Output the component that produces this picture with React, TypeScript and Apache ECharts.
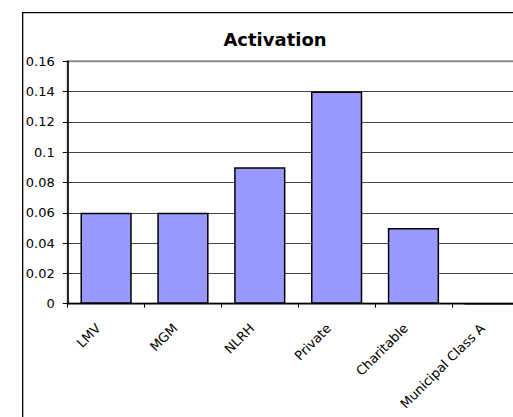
import React, { useEffect, useRef } from "react";
import * as echarts from "echarts";

// Activation rate per hospital group
const categories = ["LMV", "MGM", "NLRH", "Private", "Charitable", "Municipal Class A"];
const activation = [0.06, 0.06, 0.09, 0.14, 0.05, 0];

const FONT = "DejaVu Sans";

export default function App() {
  const ref = useRef<HTMLDivElement>(null);

  useEffect(() => {
    document.body.style.margin = "0";
    if (!ref.current) return;
    const chart = echarts.init(ref.current, null, { renderer: "svg" });
    chart.setOption({
      animation: false,
      backgroundColor: "#ffffff",
      graphic: [
        {
          // chart-area frame, left edge
          type: "rect",
          shape: { x: 22, y: 12, width: 1.3, height: 430 },
          style: { fill: "#000" },
          z: 0,
        },
        {
          // chart-area frame, top edge
          type: "rect",
          shape: { x: 22, y: 12, width: 540, height: 1.3 },
          style: { fill: "#000" },
          z: 0,
        },
        {
          type: "text",
          x: 275,
          y: 39,
          style: {
            text: "Activation",
            font: `bold 18px "${FONT}"`,
            fill: "#000",
            align: "center",
            verticalAlign: "middle",
          },
        },
      ],
      grid: {
        left: 67.7,
        top: 61.3,
        width: 461,
        height: 242.4,
        show: true,
        backgroundColor: "#fff",
        borderColor: "#8a8a8a",
        borderWidth: 2,
      },
      xAxis: {
        type: "category",
        data: categories,
        axisLine: { show: true, lineStyle: { color: "#000", width: 1.3 } },
        axisTick: { show: true, length: 4, lineStyle: { color: "#000" } },
        axisLabel: {
          rotate: 45,
          interval: 0,
          margin: 14.5,
          padding: [0, 11, 0, 0],
          fontFamily: FONT,
          fontSize: 13,
          color: "#000",
        },
        splitLine: { show: false },
      },
      yAxis: {
        type: "value",
        min: 0,
        max: 0.16,
        interval: 0.02,
        axisLine: { show: true, lineStyle: { color: "#000", width: 1.5 } },
        axisTick: { show: true, length: 5, lineStyle: { color: "#000" } },
        axisLabel: {
          margin: 13,
          fontFamily: FONT,
          fontSize: 13,
          color: "#000",
          formatter: (v: number) => String(+v.toFixed(2)),
        },
        splitLine: {
          show: true,
          lineStyle: {
            color: [
              "#444", "#444", "#444", "#444", "#444",
              "#444", "#444", "#444", "rgba(0,0,0,0)",
            ],
            width: 1,
          },
        },
      },
      series: [
        {
          type: "bar",
          data: activation,
          barWidth: "66.7%",
          itemStyle: { color: "#9999ff", borderColor: "#000", borderWidth: 1.5 },
        },
      ],
    });
    return () => chart.dispose();
  }, []);

  return (
    <div style={{ position: "fixed", left: 0, top: 0, width: 513, height: 417, overflow: "hidden", background: "#fff" }}>
      <div ref={ref} style={{ width: 560, height: 440 }} />
    </div>
  );
}
